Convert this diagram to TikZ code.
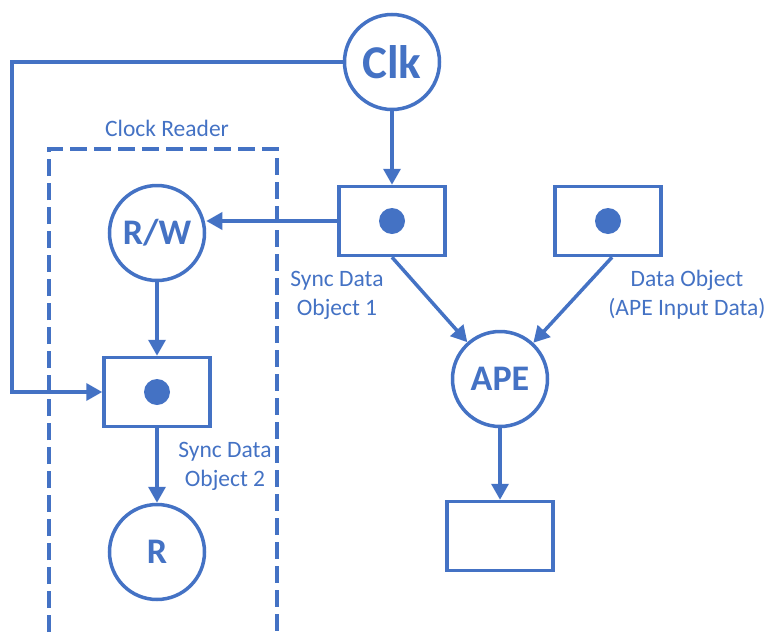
\documentclass[tikz,border=0pt]{standalone}
\usepackage{fontspec}
\setmainfont{Carlito}
\usetikzlibrary{arrows.meta}
\definecolor{officeblue}{HTML}{4472C4}

\begin{document}
\begin{tikzpicture}[x=1pt, y=-1pt, line width=3.5pt, color=officeblue,
		place/.style={draw, circle, minimum size=95pt, inner sep=0pt, font=\fontsize{36}{36}\selectfont\bfseries},
		token/.style={fill, circle, minimum size=26pt, inner sep=0pt},
		objbox/.style={draw, rectangle, minimum width=106pt, minimum height=69pt, inner sep=0pt},
		note/.style={align=center, font=\fontsize{23.5}{29}\selectfont},
		flow/.style={-{Triangle[width=17pt,length=16pt]}}]
		%%%%% START %%%%%
		
		\useasboundingbox (0, 0) rectangle (768, 632);
		
		\draw[line width=3.5pt, dash pattern=on 17pt off 7pt] (49, 632) -- (49, 149) -- (277, 149) -- (277, 632);
		\node[note] (reader) at (167, 128) {Clock Reader};
		
		\node[place, font=\fontsize{47}{47}\selectfont\bfseries] (clk) at (392, 62) {Clk};
		\node[place] (rw) at (157, 233) {R/W};
		\node[place] (ape) at (500, 379) {APE};
		\node[place] (r) at (157, 552) {R};
		
		\node[objbox] (sync1) at (392, 221) {};
		\node[objbox] (input) at (608, 221) {};
		\node[objbox] (sync2) at (157, 392) {};
		\node[objbox] (out) at (500, 536) {};
		
		\node[token] (tok1) at (sync1) {};
		\node[token] (tok2) at (input) {};
		\node[token] (tok3) at (sync2) {};
		
		\node[note] (lab1) at (337, 295) {Sync Data\\Object 1};
		\node[note] (lab2) at (687, 295) {Data Object\\(APE Input Data)};
		\node[note] (lab3) at (225, 466) {Sync Data\\Object 2};
		
		\coordinate (bend) at (12, 62);
		\draw[flow] (clk.west) -- (bend) |- (sync2.west);
		\draw[flow] (clk) -- (sync1);
		\draw[flow] (sync1.west) -- (sync1.west -| rw.east);
		\draw[flow] (rw) -- (sync2);
		\draw[flow] (sync2) -- (r);
		\draw[flow] (sync1.south) -- (ape);
		\draw[flow] ([xshift=4pt]input.south) -- (ape);
		\draw[flow] (ape) -- (out);
		
		%%%%% END %%%%%
	\end{tikzpicture}
\end{document}
